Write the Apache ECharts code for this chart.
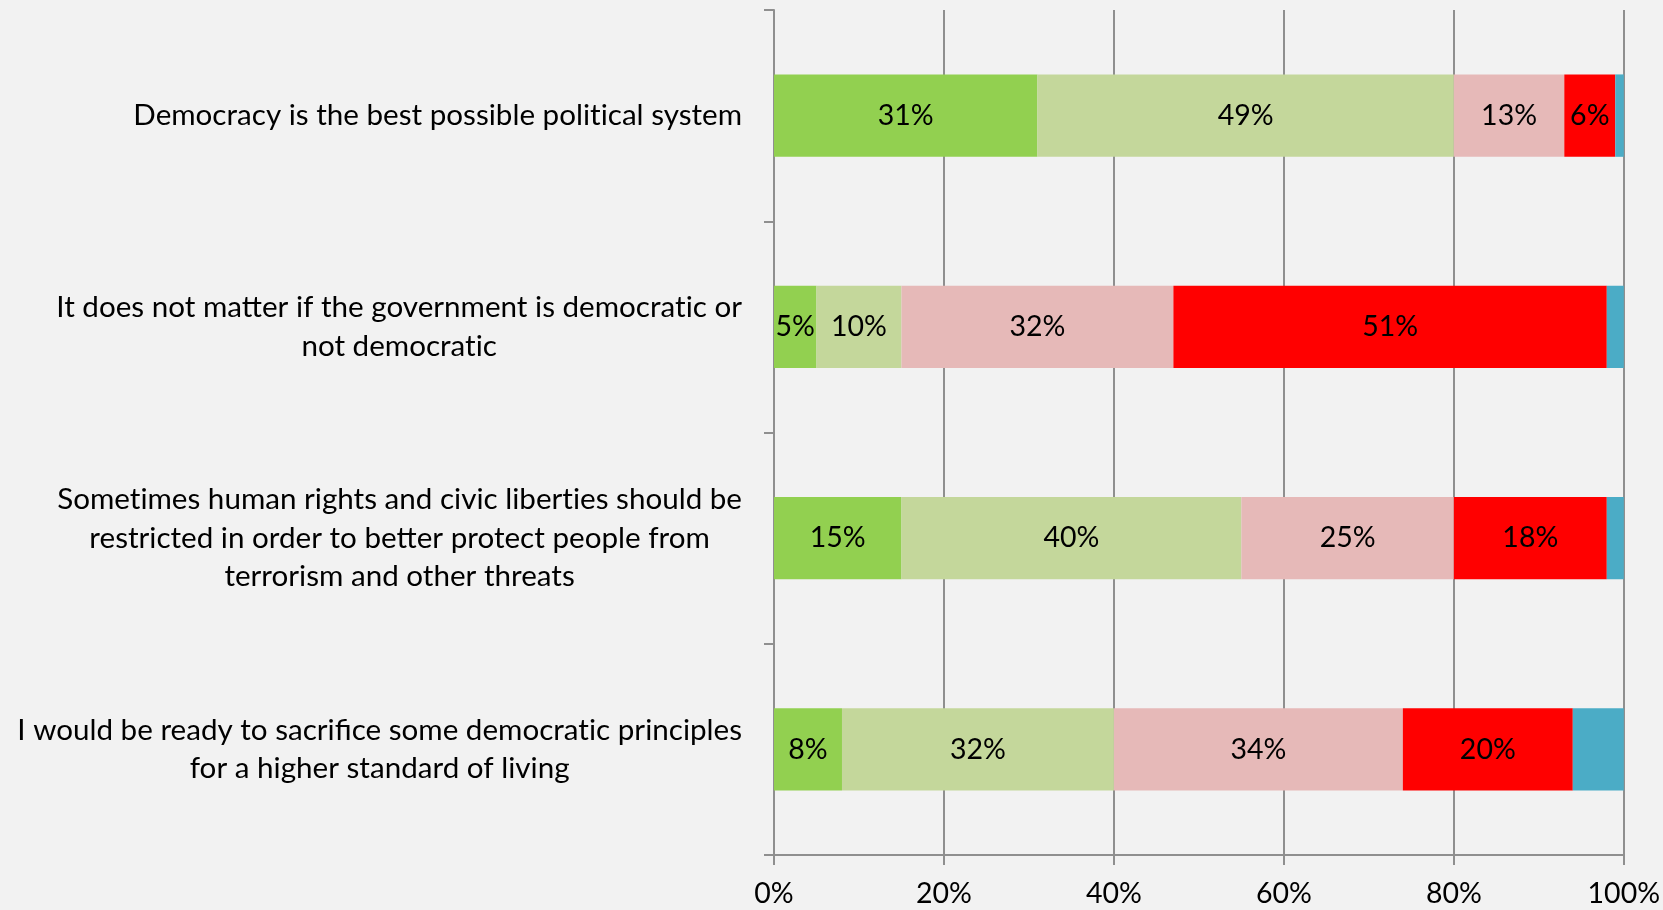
<!DOCTYPE html>
<html>
<head>
<meta charset="utf-8">
<script src="https://cdn.jsdelivr.net/npm/echarts@6/dist/echarts.min.js"></script>
<style>
  html, body { margin: 0; padding: 0; background: #f2f2f2; }
  #chart { width: 1663px; height: 910px; }
</style>
</head>
<body>
<div id="chart"></div>
<script>
// Survey statements (top to bottom)
const statements = [
  'Democracy is the best possible political system',
  'It does not matter if the government is democratic or\nnot democratic',
  'Sometimes human rights and civic liberties should be\nrestricted in order to better protect people from\nterrorism and other threats',
  'I would be ready to sacrifice some democratic principles\nfor a higher standard of living'
];

// Answer shares, percent
const stronglyAgree    = [31, 5, 15, 8];
const ratherAgree      = [49, 10, 40, 32];
const ratherDisagree   = [13, 32, 25, 34];
const stronglyDisagree = [6, 51, 18, 20];
const dontKnow         = [1, 2, 2, 6];

// Value axis tick labels
const xTickLabels = ['0%', '20%', '40%', '60%', '80%', '100%'];

const FONT = 'Lato';
const GRAY = '#8f8f8f';
const CAT_SIZE = 29.6;
const CAT_LINE = 38.5;

const chart = echarts.init(document.getElementById('chart'), null, { renderer: 'canvas' });

// Lato joins "ti" into a ligature; a zero-width non-joiner keeps the letters apart
const noLig = s => s.replace(/ti/g, 't\u200Ci');

function stackSeries(name, data, color, withLabel) {
  return {
    name: name,
    type: 'bar',
    stack: 'total',
    data: data,
    barWidth: '39%',
    itemStyle: { color: color },
    label: {
      show: withLabel,
      position: 'inside',
      formatter: p => p.value + '%',
      color: '#000',
      fontFamily: FONT,
      fontSize: 28.5
    },
    emphasis: { disabled: true }
  };
}

chart.setOption({
  backgroundColor: '#f2f2f2',
  animation: false,
  grid: { left: 774, right: 38, top: 10, bottom: 55, containLabel: false },
  xAxis: {
    type: 'value',
    min: 0,
    max: 100,
    interval: 20,
    axisLine: { show: true, lineStyle: { color: GRAY, width: 2 } },
    axisTick: { show: true, length: 10, lineStyle: { color: GRAY, width: 2 } },
    splitLine: { show: true, lineStyle: { color: GRAY, width: 2 } },
    axisLabel: {
      formatter: (v) => xTickLabels[Math.round(v / 20)],
      color: '#000',
      fontFamily: FONT,
      fontSize: 28.5,
      margin: 24
    }
  },
  yAxis: {
    type: 'category',
    inverse: true,
    data: statements,
    axisLine: { show: true, lineStyle: { color: GRAY, width: 2 } },
    axisTick: { show: true, length: 10, lineStyle: { color: GRAY, width: 2 } },
    splitLine: { show: false },
    axisLabel: {
      margin: 32,
      align: 'right',
      color: '#000',
      fontFamily: FONT,
      fontSize: CAT_SIZE,
      lineHeight: CAT_LINE,
      formatter: (v) => noLig(v).split('\n').map(l => '{c|' + l + '}').join('\n'),
      rich: {
        c: { align: 'center', color: '#000', fontFamily: FONT, fontSize: CAT_SIZE, lineHeight: CAT_LINE }
      }
    }
  },
  series: [
    stackSeries('Strongly agree', stronglyAgree, '#92d050', true),
    stackSeries('Rather agree', ratherAgree, '#c4d79b', true),
    stackSeries('Rather disagree', ratherDisagree, '#e6b9b8', true),
    stackSeries('Strongly disagree', stronglyDisagree, '#ff0000', true),
    stackSeries("Don't know", dontKnow, '#4bacc6', false)
  ]
});
</script>
</body>
</html>
